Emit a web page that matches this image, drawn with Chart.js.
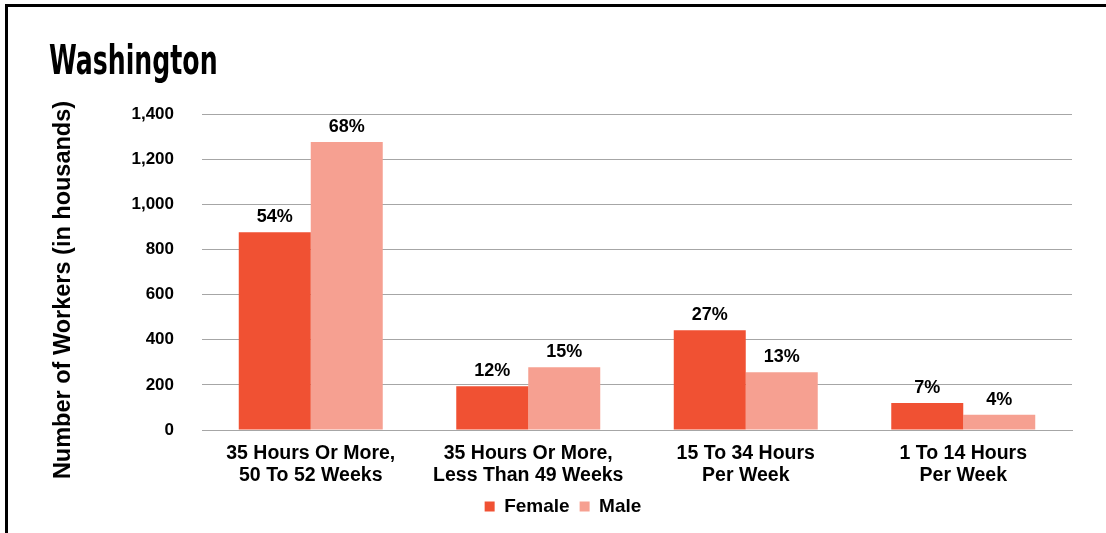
<!DOCTYPE html>
<html>
<head>
<meta charset="utf-8">
<script src="https://cdn.jsdelivr.net/npm/chart.js@4.4.0/dist/chart.umd.min.js"></script>
<style>
  html, body { margin: 0; padding: 0; background: #fff; }
  #wrap { position: relative; width: 1106px; height: 533px; overflow: hidden; }
  #frame { position: absolute; left: 5px; top: 4px; right: -10px; bottom: -10px;
           border-top: 3px solid #000; border-left: 3px solid #000; }
  #title { position: absolute; left: 49px; top: 40px; font-family: "Liberation Sans Narrow", "DejaVu Sans Condensed", "Liberation Sans", sans-serif;
           font-weight: bold; font-size: 40px; line-height: 40px; color: #000; transform: scaleX(0.7); transform-origin: left top; white-space: nowrap; }
  #ytitle { position: absolute; left: 62px; top: 290px; transform: translate(-50%, -50%) rotate(-90deg);
            font-family: "Liberation Sans", Arial, sans-serif; font-weight: bold; font-size: 23.5px; color: #000; white-space: nowrap; }
  canvas { position: absolute; left: 0; top: 0; }
</style>
</head>
<body>
<div id="wrap">
  <canvas id="c" width="1106" height="533"></canvas>
  <div id="frame"></div>
  <div id="title">Washington</div>
  <div id="ytitle">Number of Workers (in housands)</div>
</div>
<script>
const categories = [
  ["35 Hours Or More,", "50 To 52 Weeks"],
  ["35 Hours Or More,", "Less Than 49 Weeks"],
  ["15 To 34 Hours", "Per Week"],
  ["1 To 14 Hours", "Per Week"]
];
const seriesNames = ["Female", "Male"];
const femaleValues = [876, 194, 442, 120];
const maleValues = [1276, 278, 256, 68];
const femalePct = ["54%", "12%", "27%", "7%"];
const malePct = ["68%", "15%", "13%", "4%"];
const yMax = 1400;
const yStep = 200;

const FONT = '"Liberation Sans", Arial, sans-serif';

const pctLabels = [femalePct, malePct];
const dataLabelPlugin = {
  id: 'dataLabels',
  afterDatasetsDraw(chart) {
    const ctx = chart.ctx;
    ctx.save();
    ctx.font = 'bold 18px ' + FONT;
    ctx.fillStyle = '#000';
    ctx.textAlign = 'center';
    ctx.textBaseline = 'alphabetic';
    chart.data.datasets.forEach((ds, di) => {
      const meta = chart.getDatasetMeta(di);
      meta.data.forEach((el, i) => {
        ctx.fillText(pctLabels[di][i], el.x, el.y - 10);
      });
    });
    ctx.restore();
  }
};

const legendShift = {
  id: 'legendShift',
  afterLayout(chart) {
    const l = chart.legend;
    if (l) { l.left += 27; l.right += 27; }
  }
};

new Chart(document.getElementById('c'), {
  type: 'bar',
  data: {
    labels: categories,
    datasets: [
      { label: seriesNames[0], data: femaleValues, backgroundColor: '#F05133', borderWidth: 0 },
      { label: seriesNames[1], data: maleValues, backgroundColor: '#F6A091', borderWidth: 0 }
    ]
  },
  options: {
    responsive: false,
    animation: false,
    devicePixelRatio: 1,
    layout: { padding: { left: 0, right: 34, top: 114, bottom: 7 } },
    categoryPercentage: 0.662,
    barPercentage: 1.0,
    plugins: {
      legend: {
        position: 'bottom',
        labels: {
          boxWidth: 10, boxHeight: 10, padding: 10,
          color: '#000',
          font: { family: FONT, size: 19, weight: 'bold' }
        }
      },
      tooltip: { enabled: false },
      title: { display: false }
    },
    scales: {
      x: {
        afterFit(s) { s.height = 57; },
        grid: { display: false, drawTicks: false },
        border: { display: true, color: '#a6a6a6', width: 1 },
        ticks: {
          color: '#000',
          padding: 13,
          maxRotation: 0,
          font: { family: FONT, size: 19.5, weight: 'bold', lineHeight: '22px' }
        }
      },
      y: {
        min: 0, max: yMax,
        afterFit(s) { s.width = 202; },
        grid: { color: '#a6a6a6', lineWidth: 1, drawTicks: false, tickLength: 0 },
        border: { display: false },
        ticks: {
          stepSize: yStep,
          color: '#000',
          padding: 28,
          font: { family: FONT, size: 17, weight: 'bold' },
          callback: v => v.toLocaleString('en-US')
        }
      }
    }
  },
  plugins: [dataLabelPlugin, legendShift]
});
</script>
</body>
</html>
